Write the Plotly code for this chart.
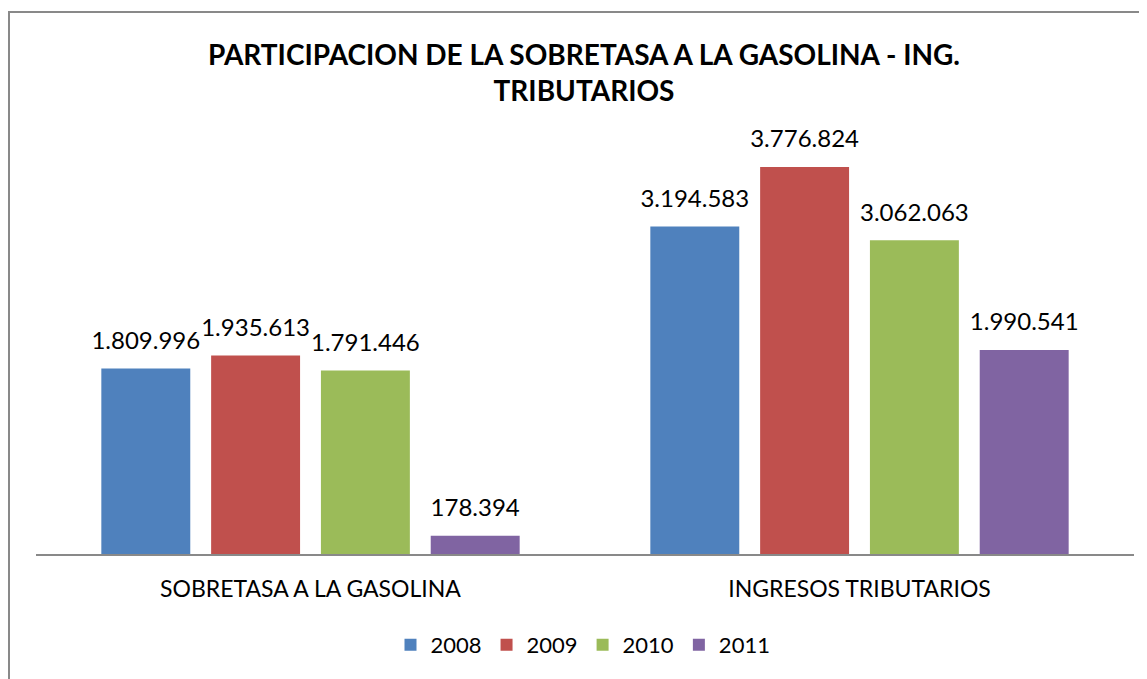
import plotly.graph_objects as go

categories = ["SOBRETASA A LA GASOLINA", "INGRESOS TRIBUTARIOS"]
years = ["2008", "2009", "2010", "2011"]
values_2008 = [1809996, 3194583]
values_2009 = [1935613, 3776824]
values_2010 = [1791446, 3062063]
values_2011 = [178394, 1990541]
series = [values_2008, values_2009, values_2010, values_2011]
colors = ["#4F81BD", "#C0504D", "#9BBB59", "#8064A2"]

FONT = "Lato, Open Sans, sans-serif"

fig = go.Figure()
for i, (name, vals, col) in enumerate(zip(years, series, colors)):
    fig.add_trace(go.Bar(
        x=categories, y=vals, name=name, marker_color=col,
        marker_line_width=0, offsetgroup=str(i), alignmentgroup="a",
        hoverinfo="skip",
    ))
for i, (name, vals) in enumerate(zip(years, series)):
    fig.add_trace(go.Scatter(
        x=categories, y=vals, mode="markers+text", showlegend=False,
        marker=dict(size=20, opacity=0, color="white"),
        texttemplate="%{y:,.0f}", textposition="top center",
        textfont=dict(size=24, color="#000000", family=FONT),
        offsetgroup=str(i), alignmentgroup="a", cliponaxis=False,
        hoverinfo="skip",
    ))

# figure is offset by the page's 8px body margin
W, H = 1139, 671
ml, mr, mt, mb = 28, 13, 136, 125
pw = W - ml - mr
ph = H - mt - mb

def px_x(x):
    return (x - ml) / pw

def px_y(y):
    return (H - mb - y) / ph

fig.update_layout(
    width=W, height=H,
    margin=dict(l=ml, r=mr, t=mt, b=mb, pad=0),
    paper_bgcolor="white", plot_bgcolor="white",
    separators=",.",
    barmode="group", bargap=0.20, bargroupgap=0.19,
    scattermode="group", scattergap=0.20,
    font=dict(family=FONT, size=20, color="#000000"),
    title=dict(
        text="<b>PARTICIPACION DE LA SOBRETASA A LA GASOLINA - ING.<br>TRIBUTARIOS</b>",
        x=px_x(576), xref="paper", xanchor="center",
        y=1 - 57 / H, yanchor="middle",
        font=dict(size=28, family=FONT, color="#000000"),
    ),
    xaxis=dict(showline=True, linecolor="#898989", linewidth=2,
               ticks="", showgrid=False, tickfont=dict(size=23, family=FONT),
               ticklabelstandoff=13),
    yaxis=dict(range=[0, 4000000], visible=False, showgrid=False, zeroline=False),
    legend=dict(orientation="h", x=px_x(575), xanchor="center",
                y=px_y(637), yanchor="middle",
                font=dict(size=22, family=FONT), itemwidth=30,
                traceorder="normal"),
    shapes=[dict(type="rect", xref="paper", yref="paper",
                 x0=px_x(1), x1=px_x(1200), y0=px_y(750), y1=px_y(4),
                 line=dict(color="#898989", width=2), fillcolor="rgba(0,0,0,0)",
                 layer="below")],
)

fig.write_html("out.html")
